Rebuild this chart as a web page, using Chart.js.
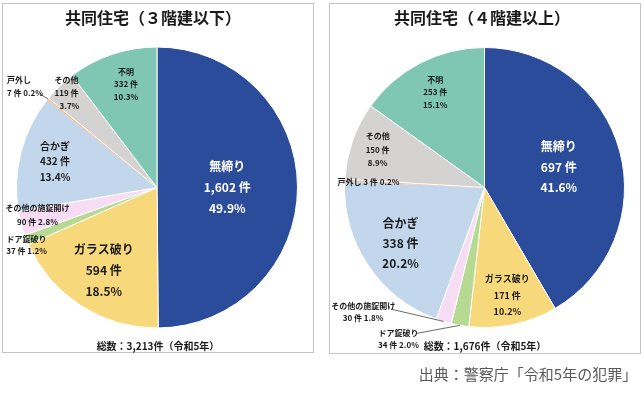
<!DOCTYPE html>
<html><head><meta charset="utf-8">
<script src="https://cdn.jsdelivr.net/npm/chart.js@4.4.1/dist/chart.umd.min.js"></script>
<style>
html,body{margin:0;padding:0;background:#fff;width:644px;height:395px;overflow:hidden;font-family:"Noto Sans CJK JP","Noto Sans",sans-serif;}
.box{position:absolute;border:1px solid #c4c4c4;box-sizing:border-box;}
.t{position:absolute;white-space:nowrap;transform:translate(-50%,-50%);color:#1a1a1a;}
canvas{position:absolute;top:0;}
</style></head><body>
<div class="box" style="left:2px;top:3px;width:312px;height:350px;"></div>
<div class="box" style="left:329px;top:3px;width:312px;height:351px;"></div>
<canvas id="c1" width="322" height="395" style="left:0px"></canvas>
<canvas id="c2" width="322" height="395" style="left:322px"></canvas>
<div class="t" style="left:153px;top:17px;font-size:16px;font-weight:bold;">共同住宅（３階建以下）</div>
<div class="t" style="left:482px;top:17px;font-size:16px;font-weight:bold;">共同住宅（４階建以上）</div>
<div class="t" style="left:158px;top:345px;font-size:10px;font-weight:bold;">総数：3,213件（令和5年）</div>
<div class="t" style="left:485px;top:345px;font-size:10px;font-weight:bold;">総数：1,676件（令和5年）</div>
<div class="t" style="left:528px;top:373px;font-size:15px;color:#595959;">出典：警察庁「令和5年の犯罪」</div>
<script>
const categories = ["無締り","ガラス破り","ドア錠破り","その他の施錠開け","合かぎ","戸外し","その他","不明"];
const lowCounts = [1602, 594, 37, 90, 432, 7, 119, 332];
const lowPct = ["49.9","18.5","1.2","2.8","13.4","0.2","3.7","10.3"];
const highCounts = [697, 171, 34, 30, 338, 3, 150, 253];
const highPct = ["41.6","10.2","2.0","1.8","20.2","0.2","8.9","15.1"];
const colors = ["#2B4C9B","#F7D87A","#B7DA93","#F6DDF4","#C3D7EC","#F3C29B","#D5D2D2","#7FC6B3"];
const borders = ["#ffffff","#ffffff","#ffffff","#ffffff","#ffffff","#F3C29B","#ffffff","#ffffff"];

const DARK = "#1a1a1a";
// label layout specs (style/positioning only)
const lowSpecs = [
  {f:.5, size:12, color:"#fff", mode:3, dy:[-21,0,21]},
  {f:.70, size:12, mode:3, dy:[-21,0,21]},
  {f:1.0, size:8, mode:2, dx:0, dy:[-1,11]},
  {f:.88, size:8, mode:2, dy:[-11,3]},
  {f:.75, size:10, mode:3, dy:[-15,0,16]},
  {f:1.0, size:8, mode:2, align:"left", dx:-41, dy:[-19,-6], leader:[-8,-5]},
  {f:.93, size:8, mode:3, dy:[-13,0,13], ldx:[0,0,3]},
  {f:.78, size:8, mode:3, dx:4, dy:[-12,0,13]}
];
const highSpecs = [
  {f:.55, size:12, color:"#fff", mode:3, dy:[-21,0,20]},
  {f:.79, size:9, mode:3, dy:[-17,0,16]},
  {f:1.0, size:8, mode:2, dx:-61.5, dy:[8,20], leader:[-43,8]},
  {f:1.0, size:8, mode:2, dx:-80.5, dy:[-15,-3], leader:[-51.5,-12]},
  {f:.72, size:12, mode:3, dy:[-20,0,20]},
  {f:.83, size:8, mode:1, dy:[1]},
  {f:.81, size:8, mode:3, dy:[-14,0,13]},
  {f:.77, size:8, mode:3, dy:[-12,0,13]}
];

function labelPlugin(counts, pcts, specs){
  return {
    id:"sliceLabels",
    afterDatasetsDraw(chart){
      const ctx = chart.ctx;
      const meta = chart.getDatasetMeta(0);
      meta.data.forEach((arc, i) => {
        const s = specs[i];
        const p = arc.getProps(["x","y","startAngle","endAngle","outerRadius"], true);
        const mid = (p.startAngle + p.endAngle) / 2;
        const ax = p.x + Math.cos(mid) * p.outerRadius * s.f;
        const ay = p.y + Math.sin(mid) * p.outerRadius * s.f;
        const name = categories[i];
        const cnt = counts[i].toLocaleString("en-US") + " 件";
        const pc = pcts[i] + "%";
        let lines;
        if (s.mode === 3) lines = [name, cnt, pc];
        else if (s.mode === 2) lines = [name, cnt + " " + pc];
        else lines = [name + " " + cnt + " " + pc];
        ctx.save();
        if (s.leader) {
          ctx.strokeStyle = "#444";
          ctx.lineWidth = 0.8;
          ctx.beginPath();
          ctx.moveTo(ax, ay);
          ctx.lineTo(ax + s.leader[0], ay + s.leader[1]);
          ctx.stroke();
        }
        ctx.fillStyle = s.color || DARK;
        ctx.font = "bold " + s.size + "px 'Noto Sans CJK JP'";
        ctx.textAlign = s.align || "center";
        ctx.textBaseline = "middle";
        lines.forEach((t, k) => {
          const lx = (s.ldx ? s.ldx[k] : 0);
          ctx.fillText(t, ax + (s.dx || 0) + lx, ay + s.dy[k]);
        });
        ctx.restore();
      });
    }
  };
}

function makeChart(id, counts, pcts, specs, pad){
  new Chart(document.getElementById(id), {
    type: "pie",
    data: {
      labels: categories,
      datasets: [{
        data: counts,
        backgroundColor: colors,
        borderColor: borders,
        borderWidth: 1
      }]
    },
    options: {
      responsive: false,
      animation: false,
      devicePixelRatio: 1,
      layout: { padding: pad },
      plugins: { legend: {display:false}, tooltip: {enabled:false}, title:{display:false} }
    },
    plugins: [labelPlugin(counts, pcts, specs)]
  });
}

makeChart("c1", lowCounts, lowPct, lowSpecs, {left:16, right:24, top:46, bottom:66});
makeChart("c2", highCounts, highPct, highSpecs, {left:22, right:19, top:46, bottom:66});
</script>
</body></html>
